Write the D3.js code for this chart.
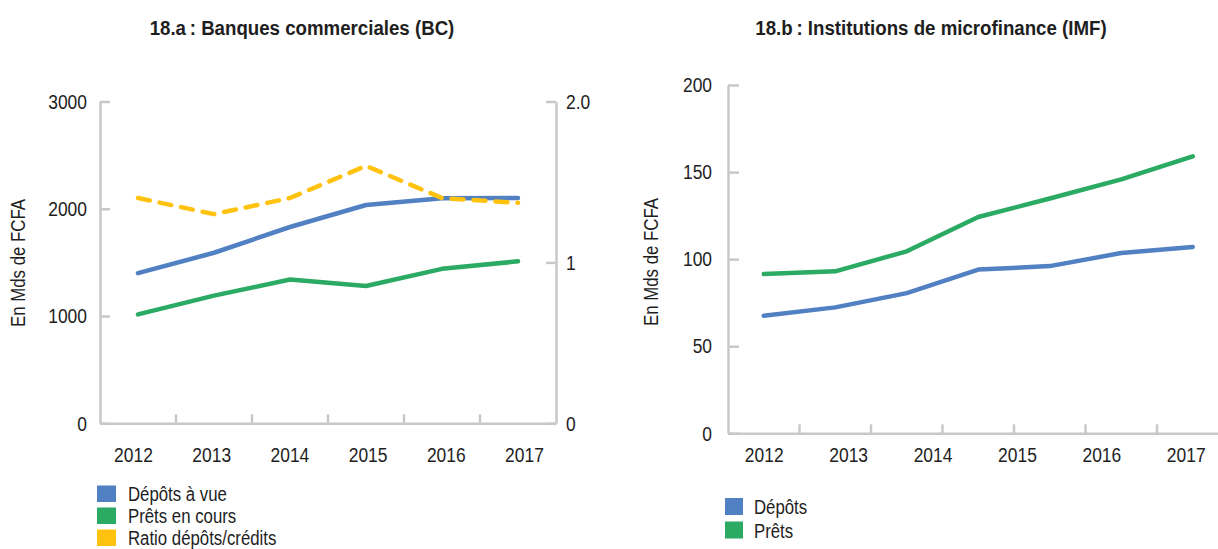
<!DOCTYPE html>
<html>
<head>
<meta charset="utf-8">
<script src="https://cdn.jsdelivr.net/npm/d3@7"></script>
<style>
  body { margin: 0; background: #fff; }
  svg { display: block; }
  text { font-family: "Liberation Sans", Arial, Helvetica, sans-serif; fill: #1e1e1e; }
</style>
</head>
<body>
<svg id="chart" width="1218" height="549"></svg>
<script>
// ---------- DATA ----------
// 18.a Banques commerciales (BC)
const yearsBC = ["2012", "2013", "2014", "2015", "2016", "2017"];
const depotsVueBC = [1400, 1590, 1830, 2035, 2098, 2100];
const pretsEnCoursBC = [1015, 1190, 1340, 1280, 1440, 1510];
const ratioDepotsCreditsBC = [1.40, 1.30, 1.40, 1.60, 1.40, 1.37];
const leftTicksBC = [0, 1000, 2000, 3000];
const rightTicksBC = [0, 1, 2];
const rightTickLabelsBC = ["0", "1", "2.0"];
const legendBC = ["Dépôts à vue", "Prêts en cours", "Ratio dépôts/crédits"];

// 18.b Institutions de microfinance (IMF) — 7 plotted points, 6 tick labels
const pointsIMF = [0, 1, 2, 3, 4, 5, 6];
const tickLabelsIMF = ["2012", "2013", "2014", "2015", "2016", "2017"];
const depotsIMF = [67.5, 72.3, 80.5, 94.0, 96.0, 103.5, 107.0];
const pretsIMF = [91.5, 93.0, 104.5, 124.2, 134.8, 145.8, 159.0];
const ticksIMF = [0, 50, 100, 150, 200];
const legendIMF = ["Dépôts", "Prêts"];

const titles = ["18.a\u2009: Banques commerciales (BC)", "18.b\u2009: Institutions de microfinance (IMF)"];
const yTitle = "En Mds de FCFA";

// ---------- STYLE ----------
const BLUE = "#5181c3", GREEN = "#2aaa63", YELLOW = "#ffc20e";
const AXIS = "#c8c8c8";
const K_TEXT = 0.8, K_NUM = 0.83, K_TITLE = 0.89;
const NUM_SIZE = 21, TEXT_SIZE = 21;

const svg = d3.select("#chart");

// horizontally condense text (emulates a condensed typeface)
function condense(sel, k) {
  sel.each(function () {
    const t = d3.select(this);
    const x = +(t.attr("x") || 0);
    t.attr("x", x / k).attr("transform", ((t.attr("transform") || "") + ` scale(${k},1)`).trim());
  });
}

function styleAxis(g) {
  g.selectAll(".domain").attr("stroke", AXIS).attr("stroke-width", 2.5);
  g.selectAll(".tick line").attr("stroke", AXIS).attr("stroke-width", 2.5);
  g.selectAll(".tick text").attr("font-size", NUM_SIZE).attr("fill", "#1e1e1e")
    .style("font-family", '"Liberation Sans", Arial, sans-serif');
}

function drawXAxis(g, x, labelScale, y0, labelPad) {
  g.append("g").attr("transform", `translate(0,${y0})`)
    .call(d3.axisBottom(x).tickSize(0).tickFormat(""))
    .call(styleAxis);
  g.append("g").selectAll("line").data(x.domain().slice(1)).join("line")
    .attr("x1", d => x(d)).attr("x2", d => x(d))
    .attr("y1", y0).attr("y2", y0 - 9)
    .attr("stroke", AXIS).attr("stroke-width", 2.5);
  const lab = g.append("g").attr("transform", `translate(0,${y0})`)
    .call(d3.axisBottom(labelScale).tickSize(0).tickPadding(labelPad))
    .call(styleAxis)
    .call(s => s.select(".domain").remove());
  condense(lab.selectAll(".tick text"), K_NUM);
}

// ========== LEFT CHART (BC) ==========
{
  const g = svg.append("g");
  const x = d3.scaleBand().domain(yearsBC).range([100, 556]);
  const bw = x.bandwidth();
  const cx = d => x(d) + bw / 2;
  const y = d3.scaleLinear().domain([0, 3000]).range([423.3, 101.5]);
  const y2 = d3.scaleLinear().domain([0, 2]).range([423.3, 101.5]);

  g.append("text").attr("x", 302).attr("y", 35).attr("text-anchor", "middle")
    .attr("font-size", 21).attr("font-weight", "bold")
    .text(titles[0]).call(condense, K_TITLE);

  g.append("text").attr("transform", "translate(25,263) rotate(-90)")
    .attr("text-anchor", "middle").attr("font-size", TEXT_SIZE).text(yTitle).call(condense, K_TEXT);

  const ya = g.append("g").attr("transform", "translate(100,0)")
    .call(d3.axisLeft(y).tickValues(leftTicksBC).tickSize(-10).tickSizeOuter(0).tickPadding(13).tickFormat(d3.format("d")))
    .call(styleAxis);
  condense(ya.selectAll(".tick text"), K_NUM);
  const yb = g.append("g").attr("transform", "translate(556,0)")
    .call(d3.axisRight(y2).tickValues(rightTicksBC).tickSize(-10).tickSizeOuter(0).tickPadding(10)
      .tickFormat((d, i) => rightTickLabelsBC[i]))
    .call(styleAxis);
  condense(yb.selectAll(".tick text"), K_NUM);

  const labelScale = d3.scalePoint().domain(yearsBC).range([cx(yearsBC[0]) - 5, cx(yearsBC[5]) + 6]);
  drawXAxis(g, x, labelScale, 423.3, 24);

  const lineL = d3.line().x((d, i) => cx(yearsBC[i])).y(d => y(d));
  const lineR = d3.line().x((d, i) => cx(yearsBC[i])).y(d => y2(d));
  g.append("path").datum(depotsVueBC).attr("d", lineL).attr("fill", "none")
    .attr("stroke", BLUE).attr("stroke-width", 4.5).attr("stroke-linecap", "round").attr("stroke-linejoin", "round");
  g.append("path").datum(pretsEnCoursBC).attr("d", lineL).attr("fill", "none")
    .attr("stroke", GREEN).attr("stroke-width", 4.5).attr("stroke-linecap", "round").attr("stroke-linejoin", "round");
  g.append("path").datum(ratioDepotsCreditsBC).attr("d", lineR).attr("fill", "none")
    .attr("stroke", YELLOW).attr("stroke-width", 4.5).attr("stroke-linecap", "round").attr("stroke-linejoin", "round")
    .attr("stroke-dasharray", "12,10");

  const colors = [BLUE, GREEN, YELLOW];
  const lg = g.append("g").attr("transform", "translate(97,485.5)");
  const items = lg.selectAll("g").data(legendBC).join("g").attr("transform", (d, i) => `translate(0,${i * 22})`);
  items.append("rect").attr("width", 19).attr("height", 16.5).attr("fill", (d, i) => colors[i]);
  items.append("text").attr("x", 31).attr("y", 15.5).attr("font-size", TEXT_SIZE).text(d => d).call(condense, K_TEXT);
}

// ========== RIGHT CHART (IMF) ==========
{
  const g = svg.append("g");
  const x = d3.scaleBand().domain(pointsIMF).range([728, 728 + 7 * 71.5]);
  const bw = x.bandwidth();
  const cx = d => x(d) + bw / 2;
  const y = d3.scaleLinear().domain([0, 200]).range([433.3, 85]);

  g.append("text").attr("x", 931).attr("y", 35).attr("text-anchor", "middle")
    .attr("font-size", 21).attr("font-weight", "bold")
    .text(titles[1]).call(condense, K_TITLE);

  g.append("text").attr("transform", "translate(658,262) rotate(-90)")
    .attr("text-anchor", "middle").attr("font-size", TEXT_SIZE).text(yTitle).call(condense, K_TEXT);

  const ya = g.append("g").attr("transform", "translate(728,0)")
    .call(d3.axisLeft(y).tickValues(ticksIMF).tickSize(-11).tickSizeOuter(0).tickPadding(16).tickFormat(d3.format("d")))
    .call(styleAxis);
  condense(ya.selectAll(".tick text"), K_NUM);

  const labelScale = d3.scalePoint().domain(tickLabelsIMF).range([cx(pointsIMF[0]), cx(pointsIMF[6]) - 7]);
  drawXAxis(g, x, labelScale, 433.3, 14);

  const line = d3.line().x((d, i) => cx(pointsIMF[i])).y(d => y(d));
  g.append("path").datum(depotsIMF).attr("d", line).attr("fill", "none")
    .attr("stroke", BLUE).attr("stroke-width", 4.5).attr("stroke-linecap", "round").attr("stroke-linejoin", "round");
  g.append("path").datum(pretsIMF).attr("d", line).attr("fill", "none")
    .attr("stroke", GREEN).attr("stroke-width", 4.5).attr("stroke-linecap", "round").attr("stroke-linejoin", "round");

  const colors = [BLUE, GREEN];
  const lg = g.append("g").attr("transform", "translate(725,498)");
  const items = lg.selectAll("g").data(legendIMF).join("g").attr("transform", (d, i) => `translate(0,${i * 23.5})`);
  items.append("rect").attr("width", 18).attr("height", 17).attr("fill", (d, i) => colors[i]);
  items.append("text").attr("x", 29).attr("y", 16).attr("font-size", TEXT_SIZE).text(d => d).call(condense, K_TEXT);
}
</script>
</body>
</html>
